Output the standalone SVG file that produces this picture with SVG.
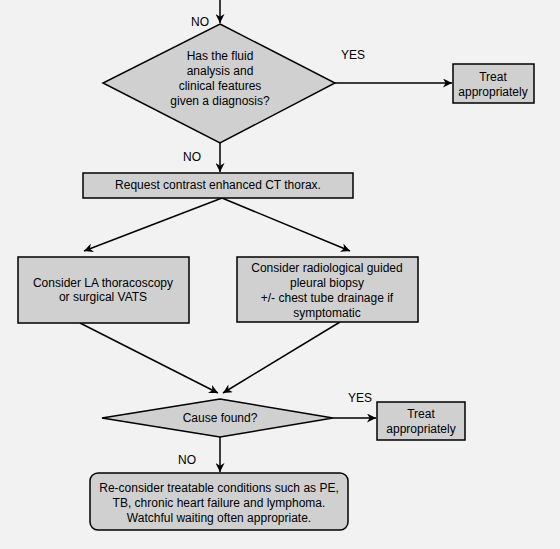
<svg xmlns="http://www.w3.org/2000/svg" width="560" height="549" viewBox="0 0 560 549">
<defs>
<marker id="ah" viewBox="0 0 10 10" refX="10" refY="5" markerWidth="9" markerHeight="9" markerUnits="userSpaceOnUse" orient="auto">
<path d="M0,0 L10,5 L0,10 L3,5 Z" fill="#000"/>
</marker>
<style>
.n{fill:#d0d0d0;stroke:#000;stroke-width:1.5}
.t{font-family:"Liberation Sans",Arial,sans-serif;font-size:12px;fill:#000;text-anchor:middle}
.l{font-family:"Liberation Sans",Arial,sans-serif;font-size:12px;fill:#000;text-anchor:middle}
.c{stroke:#000;stroke-width:1.5;fill:none;marker-end:url(#ah)}
</style>
</defs>
<rect width="560" height="549" fill="#f2f2f2"/>
<g id="connectors">
<line class="c" x1="220" y1="0" x2="220" y2="23"/>
<line class="c" x1="335" y1="83" x2="452" y2="83"/>
<line class="c" x1="220" y1="143" x2="220" y2="172"/>
<line class="c" x1="222" y1="198" x2="84" y2="251"/>
<line class="c" x1="222" y1="198" x2="350" y2="251"/>
<line class="c" x1="80" y1="323" x2="218" y2="393"/>
<line class="c" x1="340" y1="322" x2="223" y2="393"/>
<line class="c" x1="333" y1="418" x2="376" y2="418"/>
<line class="c" x1="220" y1="437" x2="220" y2="472"/>
<text class="l" x="200" y="26">NO</text>
<text class="l" x="353" y="59">YES</text>
<text class="l" x="192" y="161">NO</text>
<text class="l" x="360" y="402">YES</text>
<text class="l" x="187" y="464">NO</text>
</g>
<g id="d1">
<polygon class="n" points="220,24 335,83 220,143 103,83"/>
<text class="t" x="220" y="60">Has the fluid</text>
<text class="t" x="220" y="75">analysis and</text>
<text class="t" x="220" y="90">clinical features</text>
<text class="t" x="220" y="105">given a diagnosis?</text>
</g>
<g id="treat1">
<rect class="n" x="453" y="64" width="81" height="39"/>
<text class="t" x="493" y="81">Treat</text>
<text class="t" x="493" y="96">appropriately</text>
</g>
<g id="ct">
<rect class="n" x="83" y="173" width="270" height="25"/>
<text class="t" x="218" y="189">Request contrast enhanced CT thorax.</text>
</g>
<g id="vats">
<rect class="n" x="18" y="257" width="171" height="66"/>
<text class="t" x="103" y="287">Consider LA thoracoscopy</text>
<text class="t" x="103" y="301">or surgical VATS</text>
</g>
<g id="biopsy">
<rect class="n" x="237" y="257" width="181" height="65"/>
<text class="t" x="327" y="272">Consider radiological guided</text>
<text class="t" x="327" y="287">pleural biopsy</text>
<text class="t" x="327" y="302">+/- chest tube drainage if</text>
<text class="t" x="327" y="317">symptomatic</text>
</g>
<g id="d2">
<polygon class="n" points="220,399 333,418 220,437 102,418"/>
<text class="t" x="220" y="422">Cause found?</text>
</g>
<g id="treat2">
<rect class="n" x="377" y="402" width="88" height="38"/>
<text class="t" x="421" y="418">Treat</text>
<text class="t" x="421" y="433">appropriately</text>
</g>
<g id="reconsider">
<rect class="n" x="90" y="473" width="258" height="57" rx="8" ry="8"/>
<text class="t" x="219" y="492">Re-consider treatable conditions such as PE,</text>
<text class="t" x="219" y="507">TB, chronic heart failure and lymphoma.</text>
<text class="t" x="219" y="522">Watchful waiting often appropriate.</text>
</g>
</svg>
